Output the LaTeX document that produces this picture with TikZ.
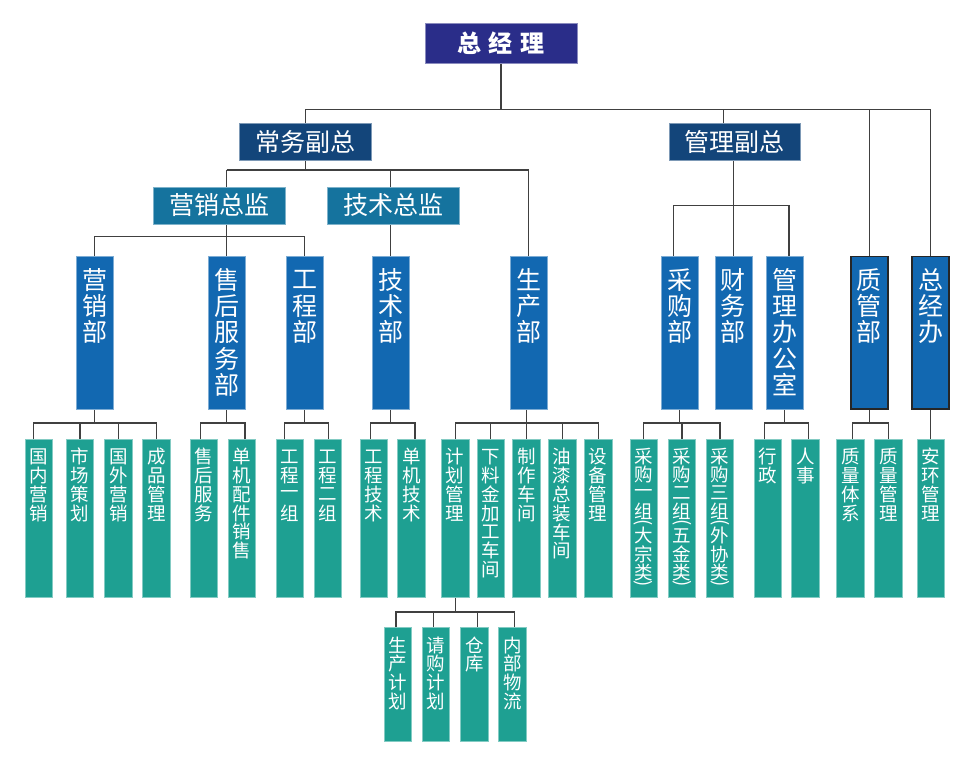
\documentclass[tikz,border=0pt]{standalone}
\usepackage{fontspec}
\setmainfont{Noto Sans CJK SC}
\definecolor{c0}{HTML}{2A2D89}
\definecolor{c1}{HTML}{13457A}
\definecolor{c2}{HTML}{15739E}
\definecolor{c3}{HTML}{1268B1}
\definecolor{c4}{HTML}{1EA092}
\definecolor{ln}{HTML}{404040}
\pgfdeclarelayer{bg}
\pgfsetlayers{bg,main}
\newdimen\vtpitch
\newdimen\vtpad
\makeatletter
\def\vlp{(}\def\vrp{)}
\def\vt#1{\vbox{\offinterlineskip\vt@loop#1\relax}}
\def\vt@loop#1{\ifx\relax#1\else\vt@item#1\expandafter\vt@loop\fi}
\def\vt@item#1{%
  \ifx\vlp#1\vt@par{(}\else
  \ifx\vrp#1\vt@par{)}\else
  \hbox to 1.1em{\hss\vbox to\vtpitch{\vss\hbox{#1}\vss}\hss}%
  \fi\fi}
\def\vt@par#1{\hbox to 1.1em{\hss\vbox to 6pt{\vss\hbox{\rotatebox[origin=c]{-90}{#1}}\vss}\hss}}
\makeatother
% #1 box height, #2 pitch, #3 top pad, #4 text
\newcommand\vtxt[4]{\vtpitch=#2pt\relax\vtpad=#3pt\relax\vbox to #1pt{\vskip\vtpad\vt{#4}\vss}}
\newcommand\dtxt[1]{\vtxt{152.3}{26.3}{10}{#1}}
\newcommand\ltxt[1]{\vtxt{157.7}{18.8}{8}{#1}}
\newcommand\ptxt[1]{\vtxt{157.7}{18.3}{8}{#1}}
\newcommand\stxt[1]{\vtxt{113.3}{18.8}{8}{#1}}
\tikzset{
  box/.style={fill=#1, draw=#1!55!white, line width=0.6pt, inner sep=0pt, text=white},
  lvzero/.style={box=c0, minimum width=152pt, minimum height=40pt, font=\fontsize{24}{24}\selectfont\bfseries},
  lvone/.style={box=c1, minimum width=131.5pt, minimum height=37pt, font=\fontsize{25}{25}\selectfont},
  lvtwo/.style={box=c2, minimum width=131.5pt, minimum height=37pt, font=\fontsize{25}{25}\selectfont},
  dept/.style={box=c3, minimum width=37pt, minimum height=152.3pt, font=\fontsize{25}{25}\selectfont},
  deptb/.style={dept, draw=black!85, line width=1.6pt},
  leaf/.style={box=c4, minimum width=27.4pt, minimum height=157.7pt, font=\fontsize{18.5}{18.5}\selectfont},
  leafs/.style={box=c4, minimum width=27.4pt, minimum height=113.3pt, font=\fontsize{18.5}{18.5}\selectfont},
  conn/.style={draw=ln, line width=1.2pt}
}
\begin{document}
\begin{tikzpicture}[x=1pt,y=-1pt]
\useasboundingbox (0,0) rectangle (969,781);
% level 0-2
\node[lvzero] (zjl) at (501,43.3) {总\hspace{7.5pt}经\hspace{7.5pt}理};
\node[lvone] (cw) at (305.2,141.5) {常务副总};
\node[lvone] (gl) at (734.6,141.5) {管理副总};
\node[lvtwo] (yx) at (219.2,205.3) {营销总监};
\node[lvtwo] (js) at (393.2,205.3) {技术总监};
% departments
\node[dept] (yxb) at (94.8,332.8) {\dtxt{营销部}};
\node[dept] (shfw) at (226.7,332.8) {\dtxt{售后服务部}};
\node[dept] (gcb) at (304.5,332.8) {\dtxt{工程部}};
\node[dept] (jsb) at (390.7,332.8) {\dtxt{技术部}};
\node[dept] (scb) at (528.7,332.8) {\dtxt{生产部}};
\node[dept] (cgb) at (679.7,332.8) {\dtxt{采购部}};
\node[dept] (cwb) at (733.3,332.8) {\dtxt{财务部}};
\node[dept] (glbgs) at (784.5,332.8) {\dtxt{管理办公室}};
\node[deptb] (zgb) at (869.2,332.8) {\dtxt{质管部}};
\node[deptb] (zjb) at (930.5,332.8) {\dtxt{总经办}};
% leaves
\node[leaf] (l1) at (39,518.2) {\ltxt{国内营销}};
\node[leaf] (l2) at (80,518.2) {\ltxt{市场策划}};
\node[leaf] (l3) at (118.3,518.2) {\ltxt{国外营销}};
\node[leaf] (l4) at (156.3,518.2) {\ltxt{成品管理}};
\node[leaf] (l5) at (203.8,518.2) {\ltxt{售后服务}};
\node[leaf] (l6) at (241.7,518.2) {\ltxt{单机配件销售}};
\node[leaf] (l7) at (290,518.2) {\ltxt{工程一组}};
\node[leaf] (l8) at (327.7,518.2) {\ltxt{工程二组}};
\node[leaf] (l9) at (373.7,518.2) {\ltxt{工程技术}};
\node[leaf] (l10) at (411.3,518.2) {\ltxt{单机技术}};
\node[leaf] (l11) at (455.2,518.2) {\ltxt{计划管理}};
\node[leaf] (l12) at (490.5,518.2) {\ltxt{下料金加工车间}};
\node[leaf] (l13) at (526.3,518.2) {\ltxt{制作车间}};
\node[leaf] (l14) at (562.2,518.2) {\ltxt{油漆总装车间}};
\node[leaf] (l15) at (598.2,518.2) {\ltxt{设备管理}};
\node[leaf] (l16) at (643.7,518.2) {\ptxt{采购一组\vlp 大宗类\vrp}};
\node[leaf] (l17) at (682,518.2) {\ptxt{采购二组\vlp 五金类\vrp}};
\node[leaf] (l18) at (720,518.2) {\ptxt{采购三组\vlp 外协类\vrp}};
\node[leaf] (l19) at (767.7,518.2) {\ltxt{行政}};
\node[leaf] (l20) at (805.3,518.2) {\ltxt{人事}};
\node[leaf] (l21) at (850.3,518.2) {\ltxt{质量体系}};
\node[leaf] (l22) at (888.3,518.2) {\ltxt{质量管理}};
\node[leaf] (l23) at (930.5,518.2) {\ltxt{安环管理}};
% bottom row
\node[leafs] (m1) at (397.8,684.3) {\stxt{生产计划}};
\node[leafs] (m2) at (435.7,684.3) {\stxt{请购计划}};
\node[leafs] (m3) at (474.3,684.3) {\stxt{仓库}};
\node[leafs] (m4) at (512.3,684.3) {\stxt{内部物流}};
% bus levels
\coordinate (b0) at (0,109.3);
\coordinate (b1) at (0,170);
\coordinate (b2) at (0,236.7);
\begin{pgfonlayer}{bg}
\fill[white] (0,0) rectangle (969,781);
\draw[conn] (zjl.south) -- (zjl.south |- b0);
\draw[conn] (cw.north) |- (zjb.north |- b0) -- (zjb.north);
\draw[conn] ([xshift=-11.5pt]gl.north) -- ++(0,-13.7);
\draw[conn] (zgb.north) -- (zgb.north |- b0);
\draw[conn] (cw.south) -- (cw.south |- b1);
\draw[conn] (shfw.north |- b1) -- (scb.north |- b1) -- (scb.north);
\draw[conn] (shfw.north |- b1) -- (shfw.north);
\draw[conn] (jsb.north |- b1) -- (jsb.north);
\draw[conn] (yxb.north) |- (gcb.north |- b2) -- (gcb.north);
\draw[conn] (cwb.north |- gl.south) -- (cwb.north);
\draw[conn] ([xshift=-6.5pt]cgb.north) -- ++(0,-51) -| ([xshift=4.5pt]glbgs.north);
% departments to leaves
\draw[conn] (yxb.south) -- ++(0,14.3);
\draw[conn] ([xshift=-5.7pt]l1.north) -- ++(0,-16) -| (l4.north);
\draw[conn] (l2.north) -- ++(0,-16);
\draw[conn] (l3.north) -- ++(0,-16);
\draw[conn] (shfw.south) -- ++(0,14.3);
\draw[conn] ([xshift=-3pt]l5.north) -- ++(0,-16) -| ([xshift=3.3pt]l6.north);
\draw[conn] (gcb.south) -- ++(0,14.3);
\draw[conn] ([xshift=-5.3pt]l7.north) -- ++(0,-16) -| ([xshift=1pt]l8.north);
\draw[conn] (jsb.south) -- ++(0,14.3);
\draw[conn] ([xshift=-3.4pt]l9.north) -- ++(0,-16) -| ([xshift=3.7pt]l10.north);
\draw[conn] (l13.north |- scb.south) -- ++(0,14.3);
\draw[conn] (l11.north) -- ++(0,-16) -| (l15.north);
\draw[conn] (l12.north) -- ++(0,-16);
\draw[conn] (l13.north) -- ++(0,-16);
\draw[conn] (l14.north) -- ++(0,-16);
\draw[conn] (cgb.south) -- ++(0,14.3);
\draw[conn] (l16.north) -- ++(0,-16) -| (l18.north);
\draw[conn] (l17.north) -- ++(0,-16);
\draw[conn] (glbgs.south) -- ++(0,14.3);
\draw[conn] ([xshift=-3pt]l19.north) -- ++(0,-16) -| ([xshift=3.4pt]l20.north);
\draw[conn] (zgb.south) -- ++(0,14.3);
\draw[conn] ([xshift=2pt]l21.north) -- ++(0,-16) -| (l22.north);
\draw[conn] (zjb.south) -- (l23.north);
% planning to bottom row
\draw[conn] (l11.south) -- ++(0,15.3);
\draw[conn] ([xshift=-1.8pt]m1.north) -- ++(0,-15.4) -| ([xshift=2pt]m4.north);
\draw[conn] ([xshift=-2.4pt]m2.north) -- ++(0,-15.4);
\draw[conn] ([xshift=3.4pt]m3.north) -- ++(0,-15.4);
\end{pgfonlayer}
\end{tikzpicture}
\end{document}
